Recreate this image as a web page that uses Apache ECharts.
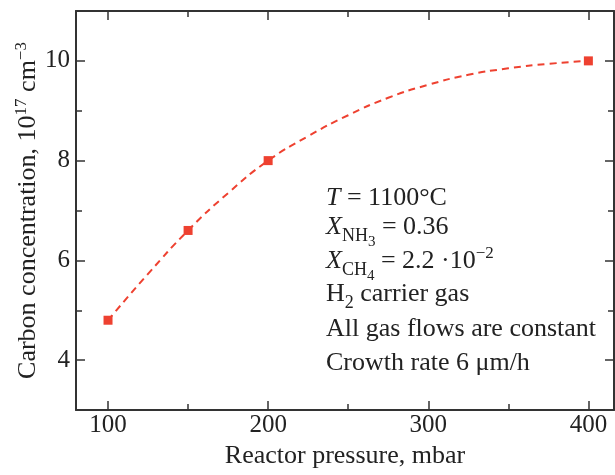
<!DOCTYPE html>
<html>
<head>
<meta charset="utf-8">
<script src="https://cdn.jsdelivr.net/npm/echarts@6/dist/echarts.min.js"></script>
<style>
  html, body { margin: 0; padding: 0; background: #fff; }
  #chart { width: 615px; height: 475px; }
</style>
</head>
<body>
<div id="chart"></div>
<script>
// measured points
const pressure = [100, 150, 200, 400]
const carbon = [4.8, 6.6, 8.0, 10.0]
// dashed guide curve
const curvePressure = [100, 125, 150, 175, 200, 225, 250, 275, 300, 325, 350, 375, 400]
const curveCarbon = [4.8, 5.73, 6.6, 7.35, 8.0, 8.49, 8.91, 9.26, 9.52, 9.72, 9.85, 9.94, 10.0]
const xTicks = [100, 200, 300, 400]
const yTicks = [4, 6, 8, 10]

const serif = 'Liberation Serif'
const ink = '#222'
const red = '#ee4130'

// annotation lines (rich text)
const notes = [
  '{i|T} = 1100°C',
  '{i|X}{sub|NH}{sub2|3} = 0.36',
  '{i|X}{sub|CH}{sub2|4} = 2.2 ·10{sup|−2}',
  'H{sub|2} carrier gas',
  'All gas flows are constant',
  'Crowth rate 6 μm/h'
]
const noteY = [198, 227, 261, 294, 329, 363]

const rich = {
  i: { fontFamily: serif, fontSize: 26, fontStyle: 'italic', color: ink },
  sub: { fontFamily: serif, fontSize: 18, color: ink, padding: [19, 0, 0, 0] },
  sub2: { fontFamily: serif, fontSize: 15, color: ink, padding: [30, 0, 0, 0] },
  sup: { fontFamily: serif, fontSize: 17, color: ink, padding: [0, 0, 14, 0] }
}

const chart = echarts.init(document.getElementById('chart'))

const axisLine = { show: true, lineStyle: { color: '#333', width: 2 } }
const tick = { show: true, inside: true, length: 9, lineStyle: { color: '#333', width: 1.5 } }
const minor = { show: true, splitNumber: 2, length: 6, lineStyle: { color: '#333', width: 1.5 } }

chart.setOption({
  animation: false,
  grid: { left: 76, right: 1, top: 11, bottom: 65, outerBoundsMode: 'none' },
  xAxis: [{
    type: 'value',
    min: 80,
    max: 416,
    splitNumber: 3,
    name: 'Reactor pressure, mbar',
    nameLocation: 'middle',
    nameGap: 32,
    nameTextStyle: { fontFamily: serif, fontSize: 26, color: ink },
    axisLine: axisLine,
    axisTick: Object.assign({ customValues: xTicks }, tick),
    minorTick: minor,
    axisLabel: { customValues: xTicks, fontFamily: serif, fontSize: 25, color: ink, margin: 3 },
    splitLine: { show: false }
  }, {
    type: 'value',
    position: 'top',
    min: 80,
    max: 416,
    splitNumber: 3,
    axisLine: axisLine,
    axisTick: Object.assign({ customValues: xTicks }, tick),
    minorTick: minor,
    axisLabel: { show: false },
    splitLine: { show: false }
  }],
  yAxis: [{
    type: 'value',
    min: 3,
    max: 11,
    splitNumber: 4,
    name: 'Carbon concentration, 10{sup|17} cm{sup|−3}',
    nameLocation: 'middle',
    nameGap: 32,
    nameMoveOverlap: false,
    nameTextStyle: { fontFamily: serif, fontSize: 26, color: ink, rich: rich },
    axisLine: axisLine,
    axisTick: Object.assign({ customValues: yTicks }, tick),
    minorTick: minor,
    axisLabel: { customValues: yTicks, fontFamily: serif, fontSize: 25, color: ink, margin: 6 },
    splitLine: { show: false }
  }, {
    type: 'value',
    position: 'right',
    min: 3,
    max: 11,
    splitNumber: 4,
    axisLine: axisLine,
    axisTick: Object.assign({ customValues: yTicks }, tick),
    minorTick: minor,
    axisLabel: { show: false },
    splitLine: { show: false }
  }],
  graphic: notes.map((t, k) => ({
    type: 'text',
    style: {
      x: 326,
      y: noteY[k],
      text: t,
      align: 'left',
      verticalAlign: 'middle',
      fontFamily: serif,
      fontSize: 26,
      lineHeight: 80,
      fill: ink,
      rich: rich
    }
  })),
  series: [
    {
      name: 'curve',
      type: 'line',
      data: curvePressure.map((p, k) => [p, curveCarbon[k]]),
      smooth: true,
      symbol: 'none',
      lineStyle: { color: red, width: 2, type: [7, 5] }
    },
    {
      name: 'measured',
      type: 'scatter',
      data: pressure.map((p, k) => [p, carbon[k]]),
      symbol: 'rect',
      symbolSize: 9,
      itemStyle: { color: red, opacity: 1 },
      z: 5
    }
  ]
})
</script>
</body>
</html>
